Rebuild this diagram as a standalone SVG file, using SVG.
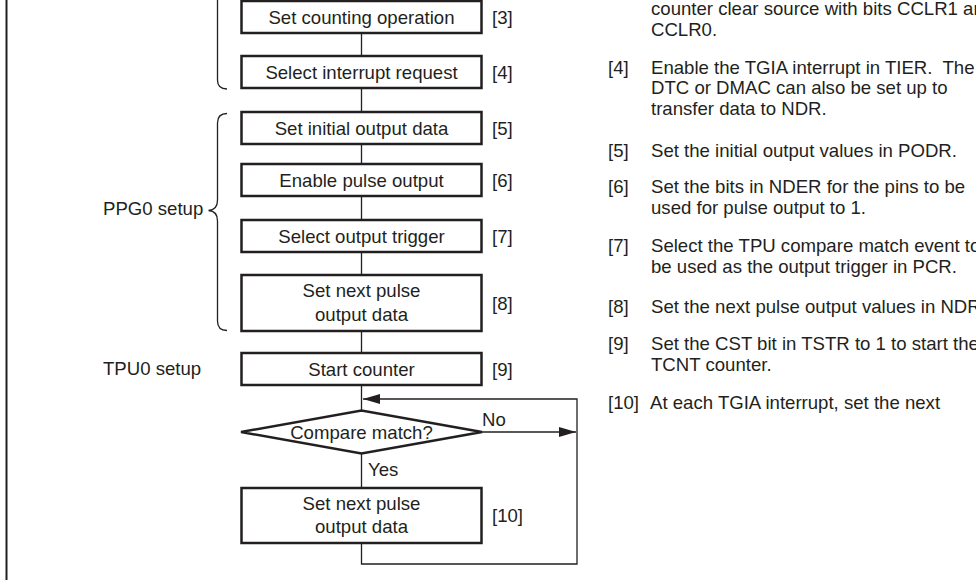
<svg xmlns="http://www.w3.org/2000/svg" width="976" height="580" viewBox="0 0 976 580">
<style>
text{font-family:"Liberation Sans",Arial,Helvetica,sans-serif;font-size:18.6px;fill:#231f20}
.box{fill:#fff;stroke:#231f20;stroke-width:2.5}
.c{fill:none;stroke:#231f20;stroke-width:1.3}
.m{text-anchor:middle}
</style>
<defs>
<marker id="ah" markerUnits="userSpaceOnUse" markerWidth="17" markerHeight="10" refX="17" refY="5" orient="auto">
<path d="M0,0 L17,5 L0,10 z" fill="#231f20"/>
</marker>
</defs>
<rect x="0" y="0" width="976" height="580" fill="#fff"/>
<line x1="6.5" y1="0" x2="6.5" y2="580" stroke="#231f20" stroke-width="2"/>

<g id="connectors">
<path class="c" d="M361.5,34 V55 M361.5,89 V111 M361.5,145 V163 M361.5,197 V219 M361.5,253 V274 M361.5,332 V352 M361.5,386 V410 M361.5,453 V487"/>
<path class="c" d="M361.5,544 V564 H577 V399 H363" marker-end="url(#ah)"/>
<path class="c" d="M482,432 H576" marker-end="url(#ah)"/>
<path class="c" d="M217.5,0 V80 Q217.5,89 227,89"/>
<path class="c" d="M227,113.5 Q217.5,113.5 217.5,123 V200 Q217.5,210 208.5,210.5 Q217.5,211 217.5,221 V321 Q217.5,330.5 227,330.5"/>
</g>

<g id="box1"><rect class="box" x="241.5" y="1" width="240" height="32"/><text class="m" x="361.5" y="24">Set counting operation</text><text x="492" y="24">[3]</text></g>
<g id="box2"><rect class="box" x="241.5" y="56" width="240" height="32"/><text class="m" x="361.5" y="78.5">Select interrupt request</text><text x="492" y="78.5">[4]</text></g>
<g id="box3"><rect class="box" x="241.5" y="112" width="240" height="32"/><text class="m" x="361.5" y="134.5">Set initial output data</text><text x="492" y="134.5">[5]</text></g>
<g id="box4"><rect class="box" x="241.5" y="164" width="240" height="32"/><text class="m" x="361.5" y="186.5">Enable pulse output</text><text x="492" y="186.5">[6]</text></g>
<g id="box5"><rect class="box" x="241.5" y="220" width="240" height="32"/><text class="m" x="361.5" y="242.5">Select output trigger</text><text x="492" y="242.5">[7]</text></g>
<g id="box6"><rect class="box" x="241.5" y="275" width="240" height="56"/><text class="m" x="361.5" y="297">Set next pulse</text><text class="m" x="361.5" y="320.5">output data</text><text x="492" y="309.5">[8]</text></g>
<g id="box7"><rect class="box" x="241.5" y="353" width="240" height="32"/><text class="m" x="361.5" y="375.5">Start counter</text><text x="492" y="375.5">[9]</text></g>
<g id="decision"><polygon class="box" points="241,432 361.5,410.5 482,432 361.5,453.5"/><text class="m" x="361.5" y="438.5">Compare match?</text><text x="482" y="426">No</text><text x="368" y="476">Yes</text></g>
<g id="box8"><rect class="box" x="241.5" y="488" width="240" height="55"/><text class="m" x="361.5" y="510">Set next pulse</text><text class="m" x="361.5" y="533">output data</text><text x="492" y="522">[10]</text></g>

<g id="labels">
<text x="103" y="215">PPG0 setup</text>
<text x="103" y="375">TPU0 setup</text>
</g>

<g id="notes">
<text x="651" y="15">counter clear source with bits CCLR1 and</text>
<text x="651" y="36">CCLR0.</text>
<text x="608" y="73.5">[4]</text>
<text x="651" y="73.5" style="white-space:pre">Enable the TGIA interrupt in TIER.  The</text>
<text x="651" y="94">DTC or DMAC can also be set up to</text>
<text x="651" y="114.5">transfer data to NDR.</text>
<text x="608" y="157">[5]</text>
<text x="651" y="157">Set the initial output values in PODR.</text>
<text x="608" y="193">[6]</text>
<text x="651" y="193">Set the bits in NDER for the pins to be</text>
<text x="651" y="214">used for pulse output to 1.</text>
<text x="608" y="252">[7]</text>
<text x="651" y="252">Select the TPU compare match event to</text>
<text x="651" y="273">be used as the output trigger in PCR.</text>
<text x="608" y="313">[8]</text>
<text x="651" y="313">Set the next pulse output values in NDR.</text>
<text x="608" y="350">[9]</text>
<text x="651" y="350">Set the CST bit in TSTR to 1 to start the</text>
<text x="651" y="371">TCNT counter.</text>
<text x="608" y="409">[10]</text>
<text x="650" y="409">At each TGIA interrupt, set the next</text>
</g>
</svg>
